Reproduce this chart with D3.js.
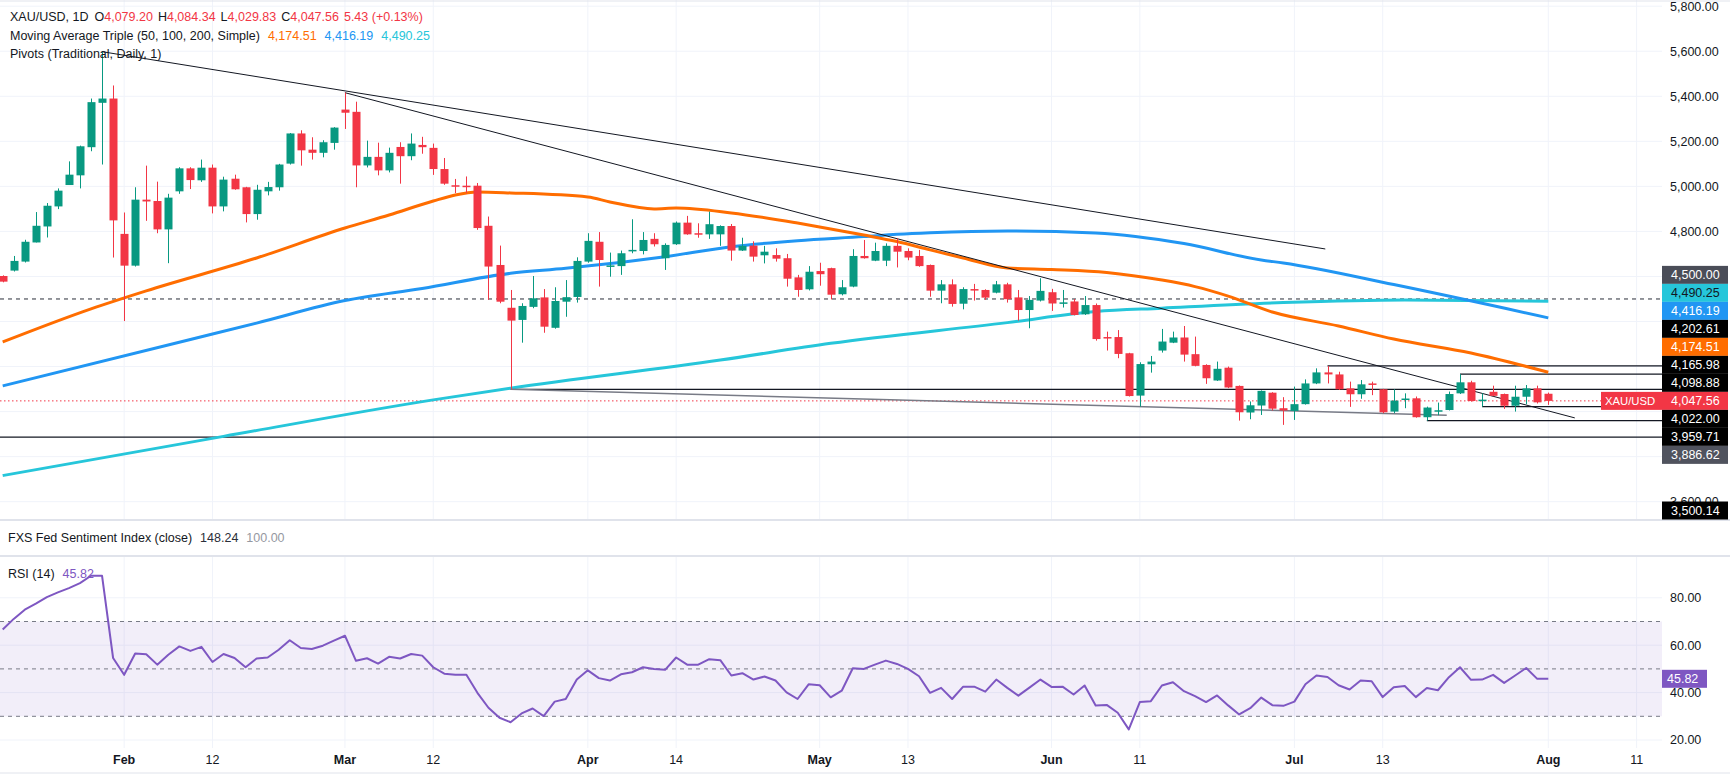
<!DOCTYPE html>
<html>
<head>
<meta charset="utf-8">
<script src="https://cdn.jsdelivr.net/npm/d3@7"></script>
<style>
  html, body { margin: 0; padding: 0; background: #fff; }
  svg { display: block; font-family: "Liberation Sans", Arial, sans-serif; }
</style>
</head>
<body>
<script>
// ---- data (bar index 0 = Jan 16, 140 = Aug 3)
var opens = [4602,4626,4666,4751,4822,4911,5006,5049,5174,5371,
  5390,4789,4648,4941,4935,4809,4978,5080,5027,5083,
  4911,5034,4996,4877,4978,4996,5101,5235,5163,5149,
  5193,5341,5331,5093,5131,5071,5175,5134,5184,5171,
  5077,5005,5003,5003,4825,4651,4461,4407,4465,4507,
  4372,4488,4509,4666,4754,4643,4646,4713,4713,4767,
  4681,4743,4839,4792,4787,4787,4824,4715,4737,4694,
  4695,4681,4596,4543,4624,4637,4521,4555,4691,4670,
  4670,4736,4713,4691,4651,4537,4565,4479,4544,4540,
  4528,4565,4507,4451,4493,4530,4480,4489,4432,4473,
  4331,4331,4259,4071,4210,4271,4306,4329,4255,4207,
  4138,4195,4114,3996,4027,4084,4015,4003,4033,4125,
  4174,4165,4103,4077,4125,4099,4000,4055,4059,3975,
  4003,4007,4081,4130,4049,4088,4078,4026,4066,4103,
  4079.20];
var highs = [4605,4691,4763,4886,4926,4991,5111,5181,5390,5598,
  5448,4884,4996,5092,5021,4967,5085,5085,5119,5097,
  5043,5052,4998,5007,5020,5100,5237,5249,5218,5205,
  5263,5416,5376,5203,5194,5172,5196,5235,5220,5190,
  5126,5033,5044,5015,4866,4737,4540,4481,4602,4544,
  4552,4584,4685,4792,4797,4706,4715,4854,4797,4792,
  4747,4844,4869,4836,4888,4827,4833,4772,4756,4736,
  4725,4700,4607,4646,4661,4639,4584,4721,4762,4750,
  4747,4769,4725,4718,4653,4584,4587,4552,4567,4543,
  4580,4572,4540,4513,4592,4545,4540,4500,4513,4480,
  4355,4362,4261,4219,4247,4367,4355,4380,4333,4210,
  4222,4200,4116,4045,4094,4086,4064,4111,4143,4192,
  4202.61,4177,4133,4140,4133,4101,4099,4081,4067,4022,
  4040,4089,4165.98,4137,4081,4115,4080,4115,4118,4115,
  4084.34];
var lows = [4574,4622,4662,4751,4773,4899,5006,4991,5156,5097,
  4684,4402,4644,4847,4792,4659,4967,4988,5020,4880,
  4889,4985,4840,4852,4960,4981,5097,5092,5119,5129,
  5163,5255,4996,5084,5049,5062,5012,5116,5145,5051,
  5007,4970,4970,4807,4496,4481,4098.88,4306,4459,4350,
  4368,4421,4484,4661,4555,4599,4607,4703,4698,4733,
  4629,4740,4785,4772,4767,4736,4670,4713,4666,4658,
  4666,4555,4510,4538,4559,4498,4516,4552,4679,4668,
  4646,4640,4672,4643,4510,4481,4466,4454,4493,4496,
  4525,4484,4404,4370,4489,4447,4462,4427,4429,4315,
  4271,4237,4067,4022,4173,4262,4304,4222,4201,4123,
  4136,4104,3960,3966,3985,4005,3941,3963,4031,4122,
  4125,4096,4021,4057,4073,3993,3993,4015,3973,3959.71,
  3984,4005,4078,4044,4022,4068,4012,4000,4033,4036,
  4029.83];
var closes = [4577,4669,4754,4825,4914,4981,5052,5178,5374,5390,
  4849,4648,4941,4933,4809,4950,5080,5028,5083,4911,
  5030,4987,4877,4985,4997,5097,5235,5160,5149,5196,
  5261,5327,5093,5131,5071,5149,5134,5190,5174,5077,
  5012,5000,4998,4815,4644,4488,4404,4469,4503,4377,
  4491,4508,4669,4758,4673,4649,4703,4718,4762,4743,
  4740,4839,4787,4787,4832,4824,4715,4736,4688,4710,
  4679,4590,4540,4621,4610,4519,4552,4691,4681,4713,
  4736,4710,4684,4646,4537,4565,4478,4544,4540,4506,
  4565,4499,4451,4496,4536,4480,4485,4429,4473,4322,
  4327,4256,4069,4211,4222,4311,4329,4253,4203,4148,
  4190,4107,3997,4028,4092,4013,4005,4033,4125,4174,
  4165,4099,4077,4121,4122,3997,4049,4058,3975,4018,
  4006,4078,4130,4047,4053,4070,4026,4066,4103,4041,
  4047.56];

var rsiValues = [66.6,71.1,75.0,77.5,80.3,82.3,84.1,86.2,89.3,89.3,
  54.6,47.5,56.5,56.2,51.8,56.0,59.5,57.6,59.3,52.9,
  56.3,54.6,50.7,54.4,54.8,58.1,62.1,58.8,58.4,59.8,
  61.9,64.0,53.4,54.5,52.2,55.1,54.4,56.3,55.6,50.7,
  48.0,47.5,47.5,39.9,33.6,29.4,27.5,31.2,33.3,30.1,
  36.2,37.3,45.5,49.4,46.1,45.1,47.7,48.6,50.7,50.0,
  49.6,54.8,51.8,51.8,54.1,53.7,47.2,48.2,45.5,46.8,
  45.1,40.1,37.3,43.5,43.1,38.0,40.8,50.3,50.0,51.8,
  53.5,52.1,50.0,46.9,39.9,42.0,37.3,42.5,42.5,40.4,
  45.5,42.0,38.7,42.1,45.5,42.4,42.5,39.2,43.0,34.6,
  34.8,31.5,24.5,36.0,36.4,43.0,44.4,40.6,38.5,36.0,
  38.8,34.6,30.8,33.4,37.9,34.7,34.4,36.2,43.5,47.2,
  46.6,43.1,41.3,45.1,44.8,38.1,42.3,42.8,38.1,41.9,
  41.0,46.5,50.7,45.4,45.5,47.5,44.1,47.2,50.4,45.8,
  45.82];

// moving averages, sampled [bar index, value]
var ma50 = [[0,4309],[8,4456],[13,4536],[23,4682],[31,4815],[35,4873],[39,4935],[41,4962],
  [43,4975],[46,4971],[53,4953],[55,4931],[59,4900],[61,4904],[66,4882],[72,4837],[75,4811],
  [78,4784],[81,4755],[84,4718],[87,4682],[91,4638],[95,4631],[100,4618],[105,4584],[108,4555],
  [111,4513],[115,4442],[121,4380],[126,4322],[133,4260],[140,4174.51]];
var ma100 = [[0,4114],[17,4320],[23,4393],[31,4493],[38,4547],[46,4614],[51,4636],[60,4688],
  [66,4732],[72,4759],[78,4777],[81,4787],[84,4794],[91,4802],[99,4793],[107,4746],[114,4673],
  [116,4660],[126,4564],[140,4416.19]];
var ma200 = [[0,3716],[20,3890],[39,4052],[46,4104],[65,4229],[75,4303],[91,4395],[99,4444],
  [105,4459],[116,4484],[127,4496],[140,4490.25]];

// drawn levels: value and the bar they start from (null = whole chart)
var levelValues = [4202.61, 4165.98, 4098.88, 4022.00, 3959.71, 3886.62];
var levelStarts = [120, 132, 46, 134, 129, null];

// trend lines: [bar0, price0, bar1, price1]
var trendLines = [[9, 5598, 119.8, 4722], [31, 5416, 142.4, 3972]];
var greyTrend = [46, 4098.88, 130.8, 3984];

var priceTicks = d3.range(3600, 5801, 200);
var rsiTicks = [20, 40, 60, 80];
var dateTicks = [[11,"Feb"],[19,"12"],[31,"Mar"],[39,"12"],[53,"Apr"],[61,"14"],[74,"May"],
  [82,"13"],[95,"Jun"],[103,"11"],[117,"Jul"],[125,"13"],[140,"Aug"],[148,"11"]];
var monthNames = ["Feb","Mar","Apr","May","Jun","Jul","Aug"];

// price-scale tags: value, background, text colour (stacked round the last price)
var tagValues = [4500.00, 4490.25, 4416.19, 4202.61, 4174.51, 4165.98, 4098.88, 4047.56, 4022.00, 3959.71, 3886.62, 3500.14];
var tagFills = ["#4a4d58","#26c6da","#2196f3","#000000","#ff6d00","#000000","#000000","#f23645","#000000","#000000","#50535e","#000000"];
var tagText = ["#fff","#131722","#fff","#fff","#fff","#fff","#fff","#fff","#fff","#fff","#fff","#fff"];
var lastPrice = 4047.56;
var lastRsi = 45.82;

// ---- layout
var svgWidth = 1730;
var svgHeight = 775;
var plotRight = 1662;
var priceBottom = 520;
var rsiTop = 556, rsiBottom = 748;

var up = "#089981", down = "#f23645";
var gridColor = "#f0f3fa";

var svg = d3.select("body").append("svg")
  .attr("width", svgWidth)
  .attr("height", svgHeight);

var defs = svg.append("defs");
defs.append("clipPath").attr("id", "clipPrice")
  .append("rect").attr("x", 0).attr("y", 0).attr("width", plotRight).attr("height", priceBottom);
defs.append("clipPath").attr("id", "clipRsi")
  .append("rect").attr("x", 0).attr("y", rsiTop).attr("width", plotRight).attr("height", rsiBottom - rsiTop);

var x = d3.scaleLinear().domain([0, 140]).range([2.7, 1548.3]);
var y = d3.scaleLinear().domain([3500, 5800]).range([524.2, 6.2]);
var yR = d3.scaleLinear().domain([20, 80]).range([740, 597.8]);
var fmt = d3.format(",.2f");

// grid
var grid = svg.append("g");
grid.selectAll(".hg").data(priceTicks).enter().append("line")
  .attr("x1", 0).attr("x2", plotRight)
  .attr("y1", d => y(d)).attr("y2", d => y(d))
  .attr("stroke", gridColor);
grid.selectAll(".rg").data(rsiTicks).enter().append("line")
  .attr("x1", 0).attr("x2", plotRight)
  .attr("y1", d => yR(d)).attr("y2", d => yR(d))
  .attr("stroke", gridColor);
grid.selectAll(".vg").data(dateTicks).enter().append("line")
  .attr("x1", d => x(d[0])).attr("x2", d => x(d[0]))
  .attr("y1", 0).attr("y2", priceBottom)
  .attr("stroke", gridColor);
grid.selectAll(".vg2").data(dateTicks).enter().append("line")
  .attr("x1", d => x(d[0])).attr("x2", d => x(d[0]))
  .attr("y1", rsiTop).attr("y2", rsiBottom)
  .attr("stroke", gridColor);

// pane separators
[1, priceBottom, rsiTop, 773].forEach(function(v) {
  svg.append("line").attr("x1", 0).attr("x2", svgWidth)
    .attr("y1", v).attr("y2", v)
    .attr("stroke", "#e0e3eb").attr("stroke-width", v === 1 || v === 773 ? 1 : 2);
});

// ---- price pane
var pane = svg.append("g").attr("clip-path", "url(#clipPrice)");

// last price dotted line
pane.append("line")
  .attr("x1", 0).attr("x2", plotRight)
  .attr("y1", y(lastPrice)).attr("y2", y(lastPrice))
  .attr("stroke", down).attr("stroke-dasharray", "1.5,2.5");

// 4,500 dashed level
pane.append("line")
  .attr("x1", 0).attr("x2", plotRight)
  .attr("y1", y(4500)).attr("y2", y(4500))
  .attr("stroke", "#2a2e39").attr("stroke-dasharray", "4,4");

// horizontal levels
pane.selectAll(".lvl").data(levelValues).enter().append("line")
  .attr("x1", (d, i) => levelStarts[i] === null ? 0 : x(levelStarts[i]))
  .attr("x2", plotRight)
  .attr("y1", d => y(d)).attr("y2", d => y(d))
  .attr("stroke", "#131722").attr("stroke-width", 1.2);

// moving averages
var maLine = d3.line().x(d => x(d[0])).y(d => y(d[1])).curve(d3.curveMonotoneX);
pane.append("path").datum(ma200).attr("d", maLine)
  .attr("fill", "none").attr("stroke", "#26c6da").attr("stroke-width", 3);
pane.append("path").datum(ma100).attr("d", maLine)
  .attr("fill", "none").attr("stroke", "#2196f3").attr("stroke-width", 3);
pane.append("path").datum(ma50).attr("d", maLine)
  .attr("fill", "none").attr("stroke", "#ff6d00").attr("stroke-width", 3);

// trend lines
pane.selectAll(".tl").data(trendLines).enter().append("line")
  .attr("x1", d => x(d[0])).attr("y1", d => y(d[1]))
  .attr("x2", d => x(d[2])).attr("y2", d => y(d[3]))
  .attr("stroke", "#131722").attr("stroke-width", 1);
pane.append("line")
  .attr("x1", x(greyTrend[0])).attr("y1", y(greyTrend[1]))
  .attr("x2", x(greyTrend[2])).attr("y2", y(greyTrend[3]))
  .attr("stroke", "#787b86").attr("stroke-width", 1.5);

// candles
var bars = d3.range(opens.length);
var bw = 8;
var candle = pane.selectAll(".c").data(bars).enter().append("g");
candle.append("line")
  .attr("x1", i => Math.round(x(i)) + 0.5).attr("x2", i => Math.round(x(i)) + 0.5)
  .attr("y1", i => y(highs[i])).attr("y2", i => y(lows[i]))
  .attr("stroke", i => closes[i] >= opens[i] ? up : down);
candle.append("rect")
  .attr("x", i => Math.round(x(i)) + 0.5 - bw / 2)
  .attr("width", bw)
  .attr("y", i => y(Math.max(opens[i], closes[i])))
  .attr("height", i => Math.max(1.5, Math.abs(y(opens[i]) - y(closes[i]))))
  .attr("fill", i => closes[i] >= opens[i] ? up : down);

// ---- RSI pane
var rp = svg.append("g").attr("clip-path", "url(#clipRsi)");
rp.append("rect")
  .attr("x", 0).attr("width", plotRight)
  .attr("y", yR(70)).attr("height", yR(30) - yR(70))
  .attr("fill", "#7e57c2").attr("fill-opacity", 0.1);
rp.selectAll(".band").data([70, 50, 30]).enter().append("line")
  .attr("x1", 0).attr("x2", plotRight)
  .attr("y1", d => yR(d)).attr("y2", d => yR(d))
  .attr("stroke", "#787b86").attr("stroke-dasharray", "4,4");
rp.append("path").datum(rsiValues)
  .attr("d", d3.line().x((d, i) => x(i)).y(d => yR(d)))
  .attr("fill", "none").attr("stroke", "#7e57c2").attr("stroke-width", 2)
  .attr("stroke-linejoin", "round");

// ---- stacked price tags (positions worked out first so hidden ticks can be skipped)
var tagH = 18;
var anchorIdx = tagValues.indexOf(lastPrice);
var tagY = tagValues.map(v => y(v));
for (var k = anchorIdx - 1; k >= 0; k--) tagY[k] = Math.min(tagY[k], tagY[k + 1] - tagH);
for (var k = anchorIdx + 1; k < tagValues.length; k++) tagY[k] = Math.max(tagY[k], tagY[k - 1] + tagH);
tagY = tagY.map(v => Math.min(v, priceBottom - tagH / 2 - 0.5));

// tick labels that sit fully under a tag are not drawn (3,600 stays, half covered)
var shownTicks = priceTicks.filter(function(v) {
  return !tagY.some(t => Math.abs(t - y(v)) < tagH / 2 - 1);
});

// ---- axes
var axis = svg.append("g").attr("font-size", 12.5).attr("fill", "#131722");
axis.selectAll(".pt").data(shownTicks).enter().append("text")
  .attr("x", 1670).attr("y", d => y(d)).attr("dy", "0.35em")
  .text(d => fmt(d));
axis.selectAll(".rt").data(rsiTicks).enter().append("text")
  .attr("x", 1670).attr("y", d => yR(d)).attr("dy", "0.35em")
  .text(d => fmt(d));
axis.selectAll(".dt").data(dateTicks).enter().append("text")
  .attr("x", d => x(d[0])).attr("y", 764)
  .attr("text-anchor", "middle")
  .attr("font-weight", d => monthNames.indexOf(d[1]) >= 0 ? "bold" : "normal")
  .text(d => d[1]);

var tags = svg.append("g").attr("font-size", 12.5);
tags.append("rect")
  .attr("x", 1601).attr("y", tagY[anchorIdx] - tagH / 2)
  .attr("width", 61).attr("height", tagH).attr("fill", down);
tags.append("text")
  .attr("x", 1605).attr("y", tagY[anchorIdx]).attr("dy", "0.35em")
  .attr("font-size", 11.3)
  .attr("fill", "#fff").text("XAU/USD");
tagValues.forEach(function(v, i) {
  tags.append("rect")
    .attr("x", plotRight).attr("y", tagY[i] - tagH / 2)
    .attr("width", 66).attr("height", tagH)
    .attr("fill", tagFills[i]);
  tags.append("text")
    .attr("x", 1671).attr("y", tagY[i]).attr("dy", "0.35em")
    .attr("fill", tagText[i]).text(fmt(v));
});
tags.append("rect")
  .attr("x", plotRight).attr("y", yR(lastRsi) - tagH / 2)
  .attr("width", 45).attr("height", tagH).attr("fill", "#7e57c2");
tags.append("text")
  .attr("x", 1667).attr("y", yR(lastRsi)).attr("dy", "0.35em")
  .attr("fill", "#fff").text(fmt(lastRsi));

// ---- legends
var leg = svg.append("g").attr("font-size", 12.5).attr("fill", "#131722");
var l1 = leg.append("text").attr("x", 10).attr("y", 20.5);
l1.append("tspan").text("XAU/USD, 1D");
[["O", opens[140]], ["H", highs[140]], ["L", lows[140]], ["C", closes[140]]].forEach(function(p, i) {
  l1.append("tspan").attr("dx", i === 0 ? 6 : 5).text(p[0]);
  l1.append("tspan").attr("fill", down).text(fmt(p[1]));
});
l1.append("tspan").attr("dx", 5).attr("fill", down).text("5.43 (+0.13%)");

var l2 = leg.append("text").attr("x", 10).attr("y", 39.5);
l2.append("tspan").text("Moving Average Triple (50, 100, 200, Simple)");
l2.append("tspan").attr("dx", 8).attr("fill", "#ff6d00").text(fmt(ma50[ma50.length - 1][1]));
l2.append("tspan").attr("dx", 8).attr("fill", "#2196f3").text(fmt(ma100[ma100.length - 1][1]));
l2.append("tspan").attr("dx", 8).attr("fill", "#26c6da").text(fmt(ma200[ma200.length - 1][1]));

leg.append("text").attr("x", 10).attr("y", 57.5).text("Pivots (Traditional, Daily, 1)");

var l4 = leg.append("text").attr("x", 8).attr("y", 542);
l4.append("tspan").text("FXS Fed Sentiment Index (close)");
l4.append("tspan").attr("dx", 8).attr("fill", "#2a2e39").text("148.24");
l4.append("tspan").attr("dx", 8).attr("fill", "#9598a1").text("100.00");

var l5 = leg.append("text").attr("x", 8).attr("y", 577.5);
l5.append("tspan").text("RSI (14)");
l5.append("tspan").attr("dx", 8).attr("fill", "#7e57c2").text(fmt(lastRsi));
</script>
</body>
</html>
